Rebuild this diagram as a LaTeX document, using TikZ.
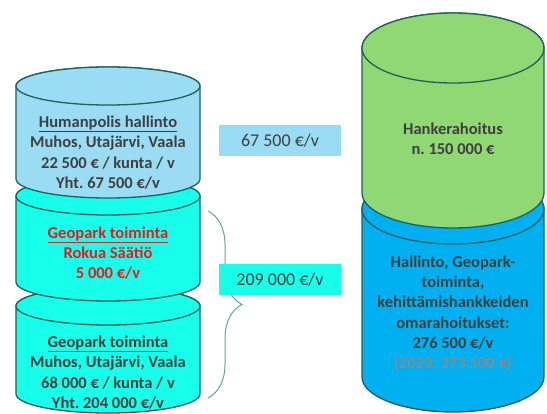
\documentclass[tikz,border=0pt]{standalone}
\usepackage{fontspec}
\setmainfont{Carlito}
\usetikzlibrary{decorations.pathreplacing}
\frenchspacing

\definecolor{edge}{HTML}{235E5B}
\definecolor{paleblue}{HTML}{9BDCF5}
\definecolor{aqua}{HTML}{17FFEA}
\definecolor{leaf}{HTML}{90D873}
\definecolor{sky}{HTML}{00B0F0}
\definecolor{txtgray}{HTML}{3F3F3F}
\definecolor{oldgray}{HTML}{8A8A8A}
\definecolor{bracecol}{HTML}{62A29F}
\definecolor{alert}{HTML}{E51B23}

% drum: centre x, top y, bottom y, x radius, y radius, fill
\newcommand{\drum}[6]{%
  \filldraw[fill=#6,draw=edge,line width=1.3pt]
    ({#1-#4},#2) -- ({#1-#4},#3)
    arc[start angle=180,end angle=360,x radius=#4pt,y radius=#5pt]
    -- ({#1+#4},#2)
    arc[start angle=0,end angle=180,x radius=#4pt,y radius=#5pt] -- cycle;
  \filldraw[fill=#6,draw=edge,line width=1.3pt] (#1,#2) ellipse[x radius=#4pt,y radius=#5pt];
}

\tikzset{
  drumtext/.style={font=\bfseries\fontsize{16.5}{20.3}\selectfont\frenchspacing,text=txtgray,align=center},
  sumbox/.style={minimum width=122pt,minimum height=31pt,inner sep=0pt,
    font=\fontsize{18}{20}\selectfont,text=txtgray}
}

\begin{document}
\begin{tikzpicture}[x=1pt,y=-1pt]
  \useasboundingbox (0,0) rectangle (547,414);
  % right stack
  \drum{453}{209}{377}{91}{35}{sky}
  \drum{453}{48}{193}{91}{35}{leaf}
  % left stack
  \drum{108}{306}{394}{92}{19}{aqua}
  \drum{108}{196}{282}{92}{19}{aqua}
  \drum{108}{86}{179}{92}{19}{paleblue}

  \node[drumtext] (humanpolis) at (108,152.5)
    {\underline{Humanpolis hallinto}\\Muhos, Utajärvi, Vaala\\22 500 € / kunta / v\\Yht. 67 500 €/v};
  \node[drumtext,text=alert] (rokua) at (108,253)
    {\underline{Geopark toiminta}\\Rokua Säätiö\\5 000 €/v};
  \node[drumtext] (geopark) at (108,372.5)
    {\underline{Geopark toiminta}\\Muhos, Utajärvi, Vaala\\68 000 € / kunta / v\\Yht. 204 000 €/v};
  \node[drumtext] (hanke) at (453,139) {Hankerahoitus\\n. 150 000 €};
  \node[drumtext] (omarahoitus) at (453,313.5)
    {Hallinto, Geopark-\\toiminta,\\kehittämishankkeiden\\omarahoitukset:\\276 500 €/v\\{\color{oldgray}(2023: 273 100 €)}};

  % brace over the two geopark drums
  \coordinate (braceTop) at (208,211);
  \coordinate (braceBot) at (208,398);
  \draw[bracecol,line width=1pt,decorate,decoration={brace,amplitude=34pt}] (braceTop) -- (braceBot);

  \node[sumbox,fill=paleblue] (sumHumanpolis) at (280,140.5) {67 500 €/v};
  \node[sumbox,fill=aqua] (sumGeopark) at (280,280) {209 000 €/v};
\end{tikzpicture}
\end{document}
